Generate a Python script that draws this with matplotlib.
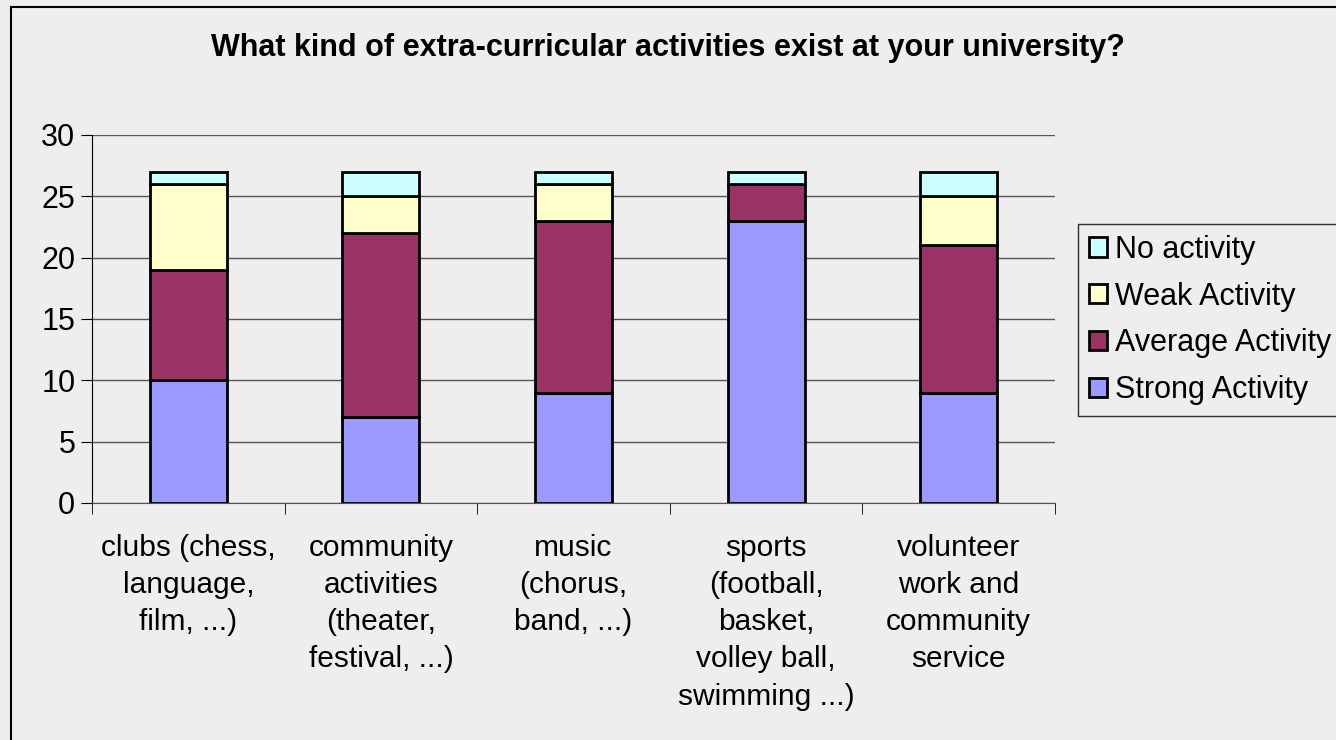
import matplotlib
matplotlib.use("Agg")
import matplotlib.pyplot as plt
from matplotlib.patches import Rectangle
import numpy as np

BG = "#eeeeee"

categories = [
    "clubs (chess,\nlanguage,\nfilm, ...)",
    "community\nactivities\n(theater,\nfestival, ...)",
    "music\n(chorus,\nband, ...)",
    "sports\n(football,\nbasket,\nvolley ball,\nswimming ...)",
    "volunteer\nwork and\ncommunity\nservice",
]
strong = [10, 7, 9, 23, 9]
average = [9, 15, 14, 3, 12]
weak = [7, 3, 3, 0, 4]
no_activity = [1, 2, 1, 1, 2]

series = [
    ("Strong Activity", strong, "#9999ff"),
    ("Average Activity", average, "#993366"),
    ("Weak Activity", weak, "#ffffcc"),
    ("No activity", no_activity, "#ccffff"),
]

plt.rcParams["font.family"] = ["Liberation Sans", "DejaVu Sans"]

fig = plt.figure(figsize=(13.36, 7.4), dpi=100)
fig.patch.set_facecolor(BG)
ax = fig.add_axes([92 / 1336, 1 - 503 / 740, (1055 - 92) / 1336, (503 - 135) / 740])
ax.set_facecolor(BG)

# outer chart border (only top/left visible in the reference)
fig.patches.append(Rectangle((11 / 1336, -0.05), 1.1, 1 - 7 / 740 + 0.05,
                             transform=fig.transFigure, fill=False,
                             edgecolor="black", linewidth=1.5))

x = np.arange(len(categories))
bottom = np.zeros(len(categories))
handles = []
for label, vals, color in series:
    b = ax.bar(x, vals, width=0.4, bottom=bottom, color=color,
               edgecolor="black", linewidth=2, label=label, zorder=3)
    handles.append(b)
    bottom += np.array(vals)

ax.set_xlim(-0.5, len(categories) - 0.5)
ax.set_ylim(0, 30)
ax.set_yticks(range(0, 31, 5))
ax.yaxis.grid(True, color="#555555", linewidth=1, zorder=0)
ax.set_axisbelow(True)

ax.set_xticks(x)
ax.set_xticklabels(categories, fontsize=21.5, linespacing=1.42, va="top")
ax.tick_params(axis="x", length=0, pad=22)
ax.set_xticks(np.arange(-0.5, len(categories), 1.0), minor=True)
ax.tick_params(axis="x", which="minor", length=8, direction="out", color="black")
ax.tick_params(axis="y", labelsize=22, length=8, direction="out", color="black", pad=4)

for s in ["top", "right"]:
    ax.spines[s].set_visible(False)
ax.spines["left"].set_color("black")
ax.spines["bottom"].set_color("#555555")

fig.text(0.5, 1 - 48 / 740, "What kind of extra-curricular activities exist at your university?",
         ha="center", va="center", fontsize=22, fontweight="bold")

leg = fig.legend(handles[::-1], [s[0] for s in series][::-1],
                 loc="upper left", bbox_to_anchor=(1078 / 1336, 1 - 224 / 740),
                 fontsize=22, frameon=True, fancybox=False, facecolor=BG,
                 edgecolor="black", handlelength=0.6, handleheight=0.6,
                 handletextpad=0.25, labelspacing=0.55, borderpad=0.35,
                 borderaxespad=0)
leg.get_frame().set_linewidth(1)

fig.savefig("out.png", dpi=100, facecolor=BG)
